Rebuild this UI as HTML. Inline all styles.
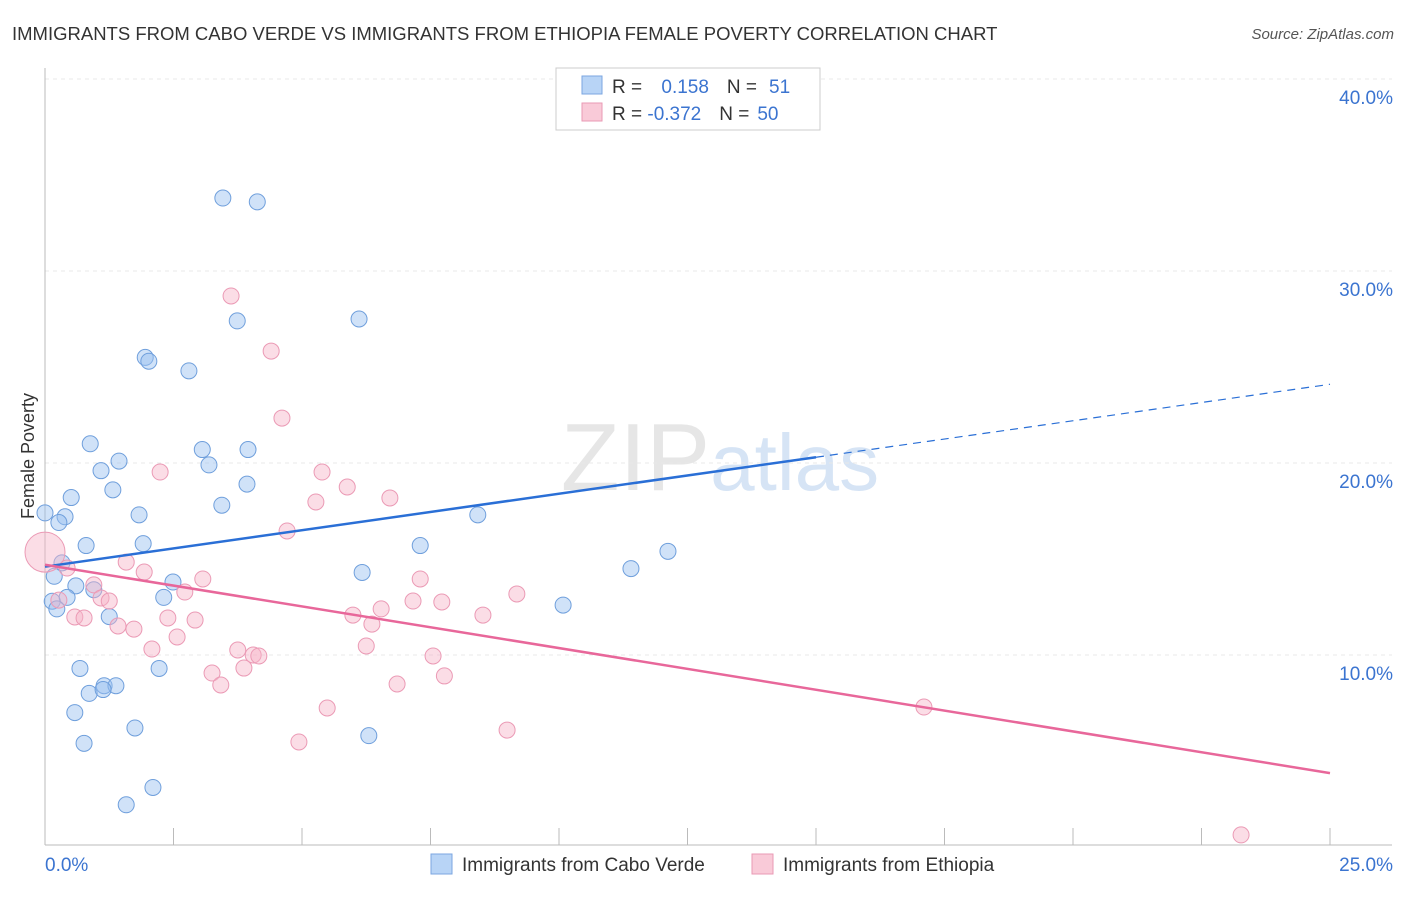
<!DOCTYPE html>
<html><head><meta charset="utf-8"><style>
body{margin:0;background:#fff;font-family:"Liberation Sans",sans-serif;}
svg text{font-family:"Liberation Sans",sans-serif;}
</style></head><body>
<svg width="1406" height="892">
<text x="12" y="40" font-size="18.5" fill="#333">IMMIGRANTS FROM CABO VERDE VS IMMIGRANTS FROM ETHIOPIA FEMALE POVERTY CORRELATION CHART</text>
<text x="1394" y="39" font-size="15" fill="#555" text-anchor="end" font-style="italic">Source: ZipAtlas.com</text>
<text x="720" y="490" font-size="96" fill="#e6e6e6" text-anchor="middle" font-family="Liberation Serif">ZIP<tspan fill="#d6e4f5" font-family="Liberation Sans" font-size="80">atlas</tspan></text>
<g id="grid"></g><g id="axes"></g><g id="marks"></g>
<text x="34" y="456" font-size="18" fill="#333" text-anchor="middle" transform="rotate(-90 34 456)">Female Poverty</text>
<g>
<rect x="556" y="68" width="264" height="62" fill="#fff" stroke="#ccc"/>
<rect x="582" y="76" width="20" height="18" fill="#b8d4f6" stroke="#7ba6e0"/>
<rect x="582" y="103" width="20" height="18" fill="#f9cad8" stroke="#e99ab4"/>
<text x="612" y="93" font-size="19" fill="#333">R = <tspan fill="#3b74d0" dx="14">0.158</tspan><tspan dx="18">N =</tspan><tspan fill="#3b74d0" dx="12">51</tspan></text>
<text x="612" y="120" font-size="19" fill="#333">R = <tspan fill="#3b74d0">-0.372</tspan><tspan dx="18">N =</tspan><tspan fill="#3b74d0" dx="8">50</tspan></text>
</g>
<g>
<rect x="431" y="854" width="21" height="20" fill="#b8d4f6" stroke="#7ba6e0"/>
<text x="462" y="871" font-size="19" fill="#333">Immigrants from Cabo Verde</text>
<rect x="752" y="854" width="21" height="20" fill="#f9cad8" stroke="#e99ab4"/>
<text x="783" y="871" font-size="19" fill="#333">Immigrants from Ethiopia</text>
</g>
</svg>
<script>
const yTicks=[10,20,30,40];
const yTickLabels=["10.0%","20.0%","30.0%","40.0%"];
const blueX=[3.46,4.13,3.74,6.11,1.95,2.02,2.8,0.88,3.06,3.95,3.19,1.44,1.09,1.32,3.93,0.51,3.44,1.83,8.42,0.39,0.27,0,0.8,1.91,7.3,12.12,0.33,0.18,11.4,6.17,0.6,2.49,0.95,0.43,2.31,0.14,0.23,10.08,1.25,0.68,2.22,1.15,1.38,0.86,1.13,0.58,1.75,6.3,0.76,2.1,1.58];
const blueY=[33.8,33.6,27.4,27.5,25.5,25.3,24.8,21.0,20.7,20.7,19.9,20.1,19.6,18.6,18.9,18.2,17.8,17.3,17.3,17.2,16.9,17.4,15.7,15.8,15.7,15.4,14.8,14.1,14.5,14.3,13.6,13.8,13.4,13.0,13.0,12.8,12.4,12.6,12.0,9.3,9.3,8.4,8.4,8.0,8.2,7.0,6.2,5.8,5.4,3.1,2.2];
const pinkX=[0,3.62,4.4,4.61,2.24,5.39,5.88,6.71,5.27,4.71,1.58,0.43,1.93,3.07,7.3,0.95,2.72,9.18,1.09,1.25,7.16,7.72,0.27,6.54,5.99,8.52,0.58,0.76,2.39,2.92,1.42,6.36,1.73,2.57,6.25,2.08,3.75,4.05,4.16,7.55,3.87,3.25,3.42,7.77,6.85,5.49,17.1,8.99,4.94,23.27];
const pinkY=[15.36,28.7,25.83,22.34,19.53,19.53,18.75,18.18,17.97,16.46,14.84,14.53,14.32,13.96,13.96,13.65,13.28,13.18,12.97,12.81,12.81,12.76,12.86,12.4,12.08,12.08,11.98,11.93,11.93,11.82,11.51,11.61,11.35,10.94,10.47,10.31,10.26,10.0,9.95,9.95,9.32,9.06,8.44,8.91,8.49,7.24,7.29,6.09,5.47,0.63];
const xTicks=[0,2.5,5,7.5,10,12.5,15,17.5,20,22.5,25];
const ns="http://www.w3.org/2000/svg";
const X=v=>45+v*51.4, Y=v=>847-v*19.2;
function mk(t,a,p){const e=document.createElementNS(ns,t);for(const k in a)e.setAttribute(k,a[k]);p.appendChild(e);return e;}
const grid=document.getElementById('grid'),axes=document.getElementById('axes'),marks=document.getElementById('marks');
yTicks.forEach((v,i)=>{
 const l=mk('line',{x1:45,x2:1392,y1:Y(v),y2:Y(v),stroke:'#e8e8e8','stroke-dasharray':'4,4'},grid);
 
 
 const t=mk('text',{x:1393,y:Y(v)+25,'font-size':19,fill:'#3b74d0','text-anchor':'end'},axes);t.textContent=yTickLabels[i];
 
 
});
const ax=mk('line',{x1:45,x2:1392,y1:845,y2:845,stroke:'#bbb'},axes);


const ay=mk('line',{x1:45,x2:45,y1:68,y2:845,stroke:'#bbb'},axes);


xTicks.forEach(v=>{const t=mk('line',{x1:X(v),x2:X(v),y1:828,y2:845,stroke:'#bbb'},axes);
 
 });
[[0,"0.0%",'start',45],[25,"25.0%",'end',1393]].forEach(d=>{const t=mk('text',{x:d[3],y:871,'font-size':19,fill:'#3b74d0','text-anchor':d[2]},axes);t.textContent=d[1];
 
 });
blueX.forEach((x,i)=>{const c=mk('circle',{cx:X(x),cy:Y(blueY[i]),r:8,fill:'rgba(150,190,240,0.45)',stroke:'#6f9fdc','stroke-width':1},marks);
 
 });
pinkX.forEach((x,i)=>{const c=mk('circle',{cx:X(x),cy:Y(pinkY[i]),r:i===0?20:8,fill:'rgba(247,180,200,0.45)',stroke:'#eb9ab5','stroke-width':1},marks);
 
 });
const b0=14.6,b1=(20.3-14.6)/15, p0=14.7,p1=(3.85-14.7)/25;
const bl=mk('line',{x1:X(0),y1:Y(b0),x2:X(15),y2:Y(b0+15*b1),stroke:'#2a6fd6','stroke-width':2.5},marks);


const bd=mk('line',{x1:X(15),y1:Y(b0+15*b1),x2:X(25),y2:Y(b0+25*b1),stroke:'#2a6fd6','stroke-width':1.2,'stroke-dasharray':'8,6'},marks);


const pl=mk('line',{x1:X(0),y1:Y(p0),x2:X(25),y2:Y(p0+25*p1),stroke:'#e8679a','stroke-width':2.5},marks);


</script>
</body></html>
